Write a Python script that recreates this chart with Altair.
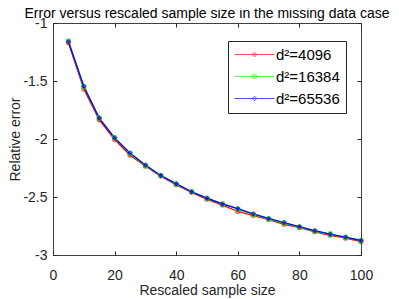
import altair as alt
import pandas as pd

sample_size = [5, 10, 15, 20, 25, 30, 35, 40, 45, 50, 55, 60, 65, 70, 75, 80, 85, 90, 95, 100]
series_names = ["d²=4096", "d²=16384", "d²=65536"]
marker_keys = ["m4096", "m16384", "m65536"]
err_4096 = [-1.17, -1.57, -1.835, -2.005, -2.14, -2.235, -2.32, -2.395, -2.46, -2.52,
            -2.57, -2.625, -2.66, -2.695, -2.735, -2.765, -2.80, -2.83, -2.855, -2.885]
err_16384 = [-1.155, -1.55, -1.82, -1.99, -2.125, -2.23, -2.315, -2.39, -2.455, -2.51,
             -2.56, -2.605, -2.65, -2.69, -2.725, -2.76, -2.795, -2.82, -2.85, -2.875]
err_65536 = [-1.16, -1.545, -1.82, -1.99, -2.12, -2.225, -2.315, -2.385, -2.455, -2.51,
             -2.56, -2.60, -2.645, -2.685, -2.72, -2.755, -2.79, -2.82, -2.845, -2.875]
series_colors = ["#ff0000", "#00ff00", "#0000ff"]
series_shapes = ["circle", "square", "diamond"]
marker_sizes = [14, 14, 26]
x_ticks = [0, 20, 40, 60, 80, 100]
y_ticks = [-3, -2.5, -2, -1.5, -1]

rows = []
for name, mk, vals in zip(series_names, marker_keys, [err_4096, err_16384, err_65536]):
    for x, y in zip(sample_size, vals):
        rows.append({"size": x, "err": y, "series": name, "marker": mk})
df = pd.DataFrame(rows)

FONT = "Liberation Sans"
INK = "#262626"

xs = alt.Scale(domain=[0, 100], nice=False)
ys = alt.Scale(domain=[-3, -1], nice=False)

line_p = "M-1,0H4.714"
p0 = line_p + "M2.117,0A0.26,0.26,0,1,1,1.597,0A0.26,0.26,0,1,1,2.117,0Z"
p1 = line_p + "M1.607,-0.25H2.107V0.25H1.607Z"
p2 = line_p + "M1.857,-0.33L2.187,0L1.857,0.33L1.527,0Z"
sym_expr = f"datum.index === 0 ? '{p0}' : datum.index === 1 ? '{p1}' : '{p2}'"

color = alt.Color(
    "series:N",
    scale=alt.Scale(domain=series_names, range=series_colors),
    legend=alt.Legend(
        title=None, orient="none", legendX=175, legendY=18,
        symbolType=alt.ExprRef(sym_expr), symbolSize=196, symbolStrokeWidth=1,
        symbolFillColor="transparent",
        labelOffset=27, padding=6, rowPadding=6,
        fillColor="white", strokeColor=INK,
        labelFont=FONT, labelFontSize=15, labelColor="#000000",
    ),
)

lines = alt.Chart(df).mark_line(strokeWidth=1.3).encode(
    x=alt.X("size:Q", scale=xs, axis=alt.Axis(
        orient="bottom", values=x_ticks, title="Rescaled sample size",
        offset=-4, tickSize=4, labelPadding=13, titlePadding=1, labelFlush=False)),
    y=alt.Y("err:Q", scale=ys, axis=alt.Axis(
        orient="left", values=y_ticks, title="Relative error",
        labelExpr="'' + datum.value",
        offset=-4, tickSize=4, labelPadding=6, titlePadding=0, labelFlush=False)),
    color=color,
)

points = alt.Chart(df).mark_point(filled=False, strokeWidth=1.3).encode(
    x=alt.X("size:Q", scale=xs, axis=alt.Axis(
        orient="top", values=x_ticks, labels=False, title=None,
        offset=-4, tickSize=4)),
    y=alt.Y("err:Q", scale=ys, axis=alt.Axis(
        orient="right", values=y_ticks, labels=False, title=None,
        offset=-4, tickSize=4)),
    color=alt.Color("series:N", scale=alt.Scale(domain=series_names, range=series_colors)),
    shape=alt.Shape("marker:N", scale=alt.Scale(domain=marker_keys, range=series_shapes), legend=None),
    size=alt.Size("marker:N", scale=alt.Scale(domain=marker_keys, range=marker_sizes), legend=None),
)

chart = alt.layer(lines, points).resolve_axis(x="independent", y="independent").properties(
    width=308,
    height=232,
    title=alt.Title(
        "Error versus rescaled sample size in the missing data case",
        font=FONT, fontSize=14, fontWeight="normal", color="#000000",
        anchor="middle", frame="group", offset=4, dy=9,
    ),
    padding={"left": 45, "top": 15, "right": 30, "bottom": 43},
    autosize=alt.AutoSizeParams(type="none"),
).configure_view(
    stroke="#404040", strokeWidth=1
).configure_axis(
    grid=False, domain=False,
    labelFont=FONT, labelFontSize=14, labelColor=INK,
    titleFont=FONT, titleFontSize=14, titleFontWeight="normal", titleColor=INK,
    tickColor=INK,
)

chart.save("out.html", embed_options={"renderer": "svg", "actions": False})
